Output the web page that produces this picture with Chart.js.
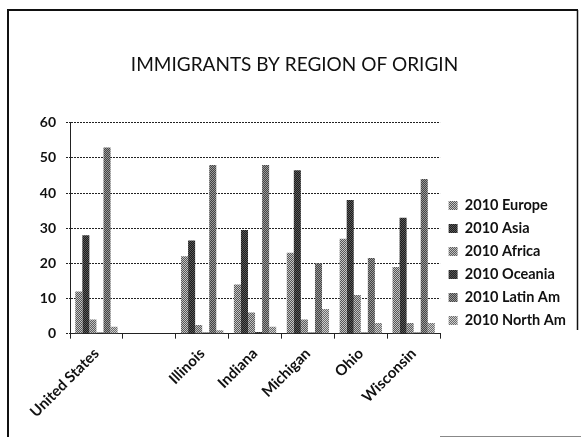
<!DOCTYPE html>
<html>
<head>
<meta charset="utf-8">
<script src="https://cdn.jsdelivr.net/npm/chart.js@4/dist/chart.umd.min.js"></script>
<style>
  html, body { margin: 0; padding: 0; background: #fff; }
  #wrap { width: 581px; height: 437px; position: relative; }
</style>
</head>
<body>
<div id="wrap"><canvas id="c" width="581" height="437"></canvas></div>
<script>
const categories = ['United States', '', 'Illinois', 'Indiana', 'Michigan', 'Ohio', 'Wisconsin'];
const seriesNames = ['2010 Europe', '2010 Asia', '2010 Africa', '2010 Oceania', '2010 Latin Am', '2010 North Am'];
const europe   = [12,  null, 22,  14,  23,  27,  19];
const asia     = [28,  null, 26.5, 29.5, 46.5, 38, 33];
const africa   = [4,   null, 2.5, 6,   4,   11,  3];
const oceania  = [0.3, null, 0.3, 0.5, 0.3, 0.3, 0.3];
const latinAm  = [53,  null, 48,  48,  20,  21.5, 44];
const northAm  = [2,   null, 1,   2,   7,   3,   3];
const yTicks   = [0, 10, 20, 30, 40, 50, 60];

function dither(a, b) {
  const p = document.createElement('canvas');
  p.width = 2; p.height = 2;
  const g = p.getContext('2d');
  g.fillStyle = a; g.fillRect(0, 0, 2, 2);
  g.fillStyle = b; g.fillRect(0, 0, 1, 1); g.fillRect(1, 1, 1, 1);
  return g.createPattern(p, 'repeat');
}
const ctx = document.getElementById('c').getContext('2d');
const fills = [
  dither('#555', '#c4c4c4'),
  dither('#1c1c1c', '#5a5a5a'),
  dither('#5c5c5c', '#c0c0c0'),
  dither('#222', '#555'),
  dither('#444', '#9a9a9a'),
  dither('#6a6a6a', '#cfcfcf')
];
const seriesData = [europe, asia, africa, oceania, latinAm, northAm];

const framePlugin = {
  id: 'frame',
  afterDraw(chart) {
    const g = chart.ctx;
    g.save();
    g.strokeStyle = '#111';
    g.lineWidth = 2;
    g.beginPath();
    g.moveTo(8, 437); g.lineTo(8, 10); g.lineTo(578, 10);
    g.stroke();
    g.lineWidth = 1.5;
    g.beginPath();
    g.moveTo(577.5, 10); g.lineTo(577.5, 330);
    g.stroke();
    g.strokeStyle = '#888';
    g.lineWidth = 1;
    g.beginPath();
    g.moveTo(440, 436.5); g.lineTo(581, 436.5);
    g.stroke();
    g.restore();
  }
};

new Chart(ctx, {
  type: 'bar',
  data: {
    labels: categories,
    datasets: seriesNames.map((n, i) => ({
      label: n,
      data: seriesData[i],
      backgroundColor: fills[i],
      borderWidth: 0,
      categoryPercentage: 0.8,
      barPercentage: 1.0
    }))
  },
  options: {
    responsive: false,
    animation: false,
    layout: { padding: { top: 20, left: 13, right: 5, bottom: 10 } },
    plugins: {
      title: {
        display: true,
        text: 'IMMIGRANTS BY REGION OF ORIGIN',
        color: '#111',
        font: { family: 'Lato', size: 19, weight: 'normal' },
        padding: { top: 33, bottom: 47 }
      },
      legend: {
        position: 'right',
        align: 'center',
        title: {
          display: true,
          text: '',
          font: { size: 12 },
          padding: { top: 64.6, bottom: 0 }
        },
        labels: {
          color: '#111',
          font: { family: 'Lato', size: 14.5, weight: 'bold' },
          boxWidth: 9,
          boxHeight: 9,
          padding: 8.5
        }
      },
      tooltip: { enabled: false }
    },
    scales: {
      x: {
        grid: {
          display: true,
          drawOnChartArea: false,
          drawTicks: true,
          tickLength: 5,
          color: '#222'
        },
        border: { display: true, color: '#222', dash: [2, 1] },
        ticks: {
          color: '#111',
          font: { family: 'Lato', size: 15, weight: 'bold' },
          padding: 6,
          maxRotation: 45,
          minRotation: 45,
          autoSkip: false
        }
      },
      y: {
        min: 0,
        max: 60,
        afterBuildTicks(scale) { scale.ticks = yTicks.map(v => ({ value: v })); },
        afterFit(scale) { scale.width = 57; },
        grid: {
          color: '#222',
          tickLength: 4,
          tickBorderDash: [2, 1]
        },
        border: { display: true, color: '#222', dash: [2, 1] },
        ticks: {
          color: '#111',
          font: { family: 'Lato', size: 14, weight: 'bold' },
          padding: 10
        }
      }
    }
  },
  plugins: [framePlugin]
});
</script>
</body>
</html>
